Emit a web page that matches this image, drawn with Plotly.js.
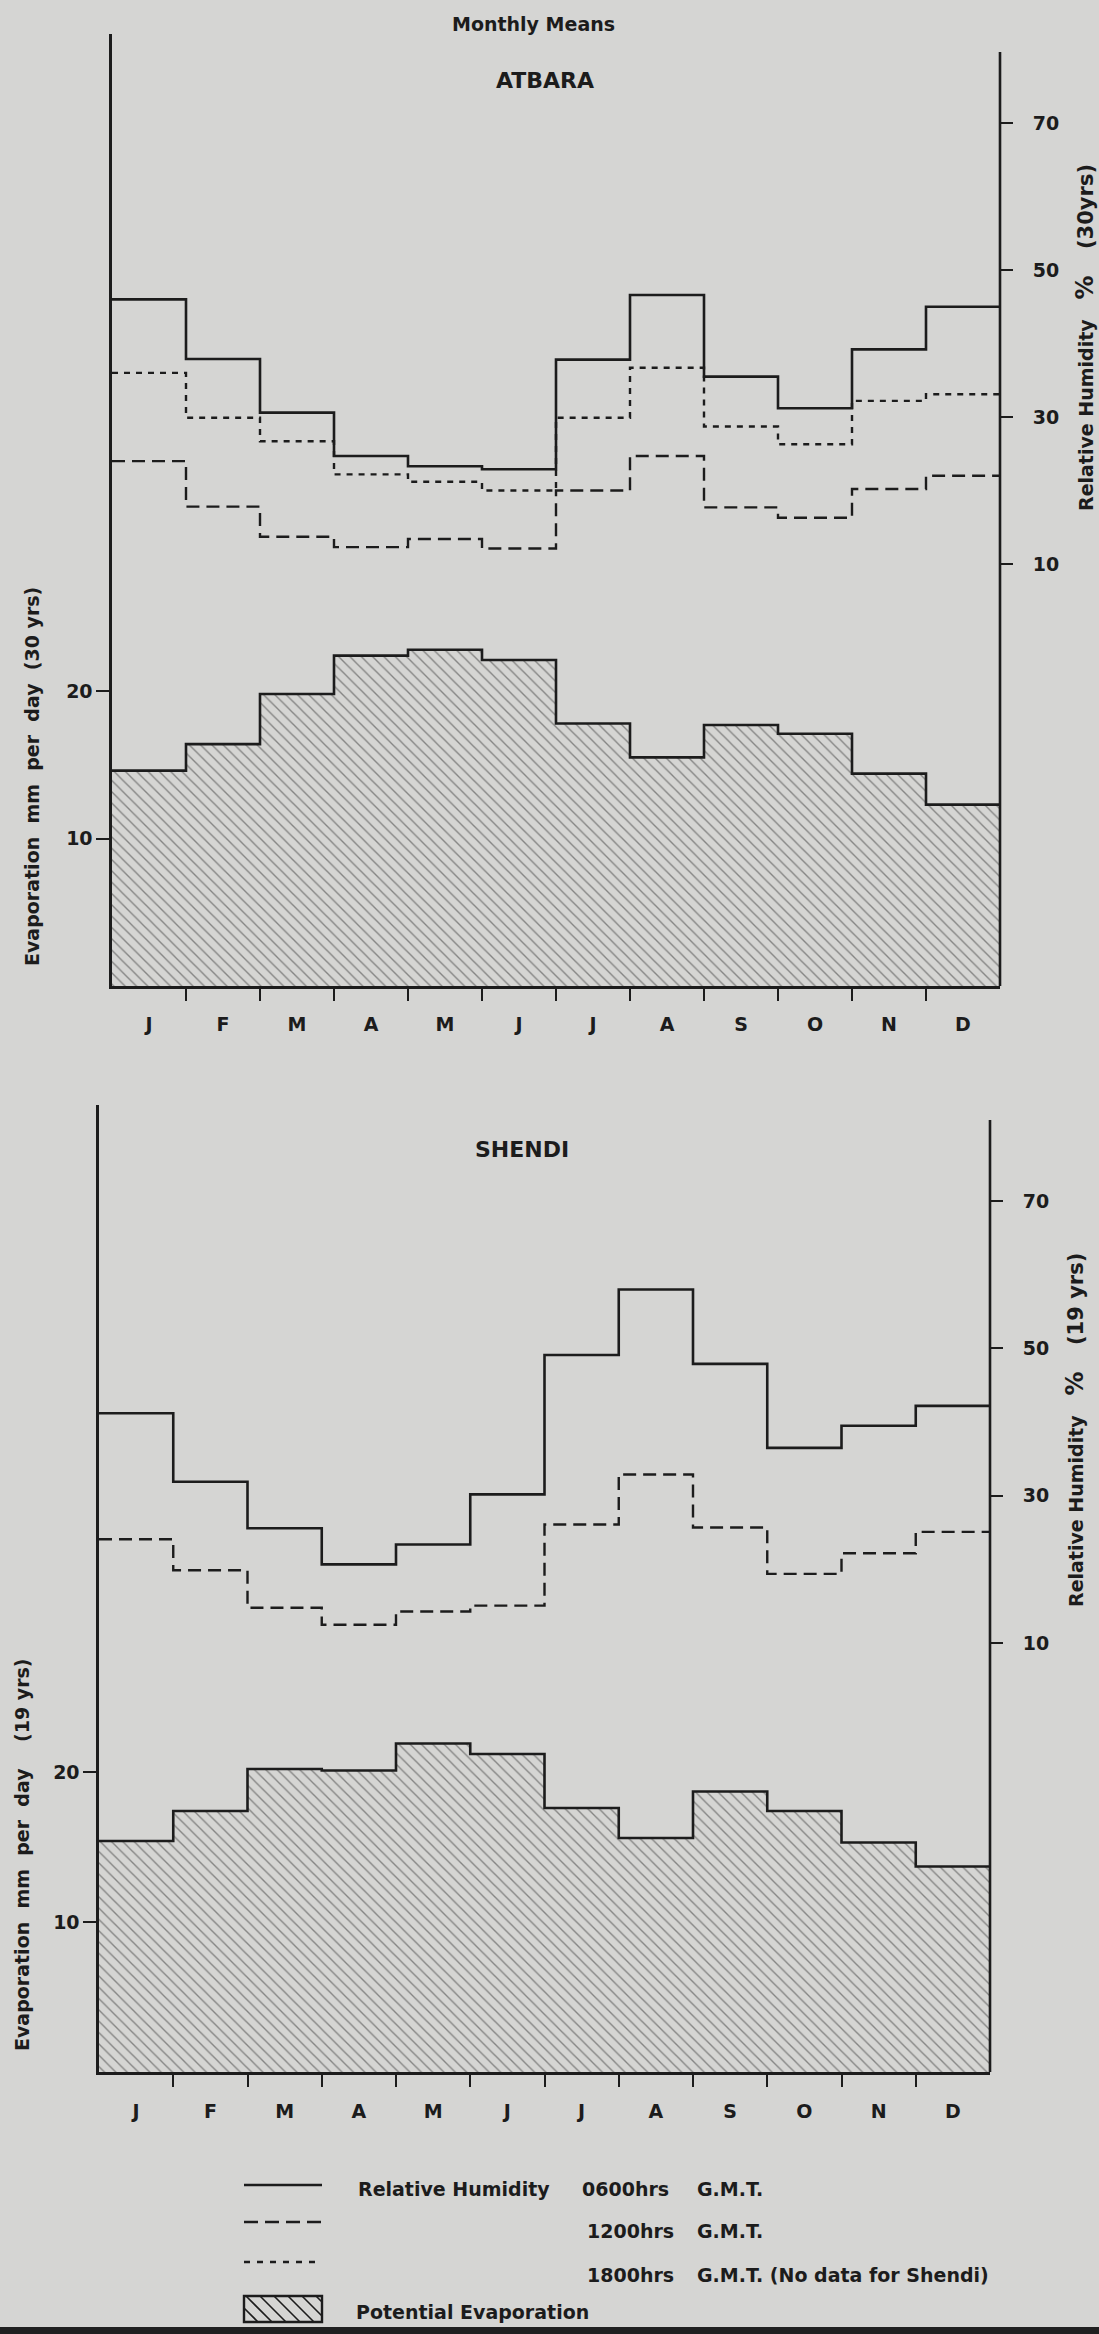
<!DOCTYPE html>
<html>
<head>
<meta charset="utf-8">
<script src="https://cdn.plot.ly/plotly-3.0.1.min.js"></script>
<style>
  html, body { margin: 0; padding: 0; background: #d5d5d3; }
  #chart { width: 1099px; height: 2334px; }
</style>
</head>
<body>
<div id="chart"></div>
<script>
// ---------------- data ----------------
const months = ['J','F','M','A','M','J','J','A','S','O','N','D'];

const atbaraEvap = [14.6, 16.4, 19.8, 22.4, 22.8, 22.1, 17.8, 15.5, 17.7, 17.1, 14.4, 12.3];
const atbaraRH0600 = [46.0, 37.9, 30.6, 24.7, 23.3, 22.9, 37.8, 46.6, 35.5, 31.2, 39.2, 45.0];
const atbaraRH1200 = [24.0, 17.8, 13.7, 12.3, 13.4, 12.1, 20.0, 24.7, 17.7, 16.3, 20.2, 22.0];
const atbaraRH1800 = [36.0, 29.9, 26.7, 22.2, 21.2, 20.0, 29.9, 36.7, 28.7, 26.3, 32.2, 33.1];

const shendiEvap = [15.4, 17.4, 20.2, 20.1, 21.9, 21.2, 17.6, 15.6, 18.7, 17.4, 15.3, 13.7];
const shendiRH0600 = [41.2, 31.9, 25.6, 20.7, 23.4, 30.2, 49.1, 58.0, 47.9, 36.5, 39.5, 42.2];
const shendiRH1200 = [24.1, 19.9, 14.8, 12.5, 14.3, 15.1, 26.1, 32.9, 25.7, 19.4, 22.2, 25.1];

const evapTicks = [10, 20];
const rhTicks = [10, 30, 50, 70];

// ---------------- helpers ----------------
const W = 1099, H = 2334;
const INK = '#1c1c1c';
const BG = '#d5d5d3';
const FONT = '"DejaVu Sans", "Open Sans", sans-serif';
const px = x => x / W;          // page x -> paper
const py = y => 1 - y / H;      // page y -> paper

const centers = months.map((m, i) => i + 0.5);
const bounds = months.slice(1).map((m, i) => i + 1);
const stepX = months.map((m, i) => i).concat([months.length]);
const stepY = arr => arr.concat([arr[arr.length - 1]]);

function evapBars(vals, xa, ya) {
  return {
    type: 'bar', x: centers, y: vals, width: 1, xaxis: xa, yaxis: ya,
    marker: {
      color: 'rgba(0,0,0,0)',
      line: { width: 0 },
      pattern: { shape: '\\', fgcolor: '#333333', bgcolor: 'rgba(0,0,0,0)', size: 8, solidity: 0.17, fillmode: 'overlay' }
    },
    hoverinfo: 'skip'
  };
}
function step(vals, xa, ya, dash, width) {
  return {
    type: 'scatter', mode: 'lines', x: stepX, y: stepY(vals), xaxis: xa, yaxis: ya,
    line: { shape: 'hv', color: INK, width: width || 2.6, dash: dash || 'solid' },
    hoverinfo: 'skip'
  };
}

const DASH1200 = '13px,7px';
const DASH1800 = '6px,6px';

const data = [
  evapBars(atbaraEvap, 'x', 'y'),
  step(atbaraEvap, 'x', 'y', 'solid', 2.6),
  step(atbaraRH0600, 'x', 'y2', 'solid', 2.6),
  step(atbaraRH1200, 'x', 'y2', DASH1200, 2.4),
  step(atbaraRH1800, 'x', 'y2', DASH1800, 2.4),
  evapBars(shendiEvap, 'x2', 'y3'),
  step(shendiEvap, 'x2', 'y3', 'solid', 2.6),
  step(shendiRH0600, 'x2', 'y4', 'solid', 2.6),
  step(shendiRH1200, 'x2', 'y4', DASH1200, 2.4)
];

// panel geometry (page pixels)
const P1 = { left: 112, right: 1000, top: 34, base: 986, rightTop: 52,
             evPx: 14.75, rh70: 123, rhPx: 7.35 };
const P2 = { left: 99, right: 990, top: 1105, base: 2072, rightTop: 1120,
             evPx: 15.0, rh70: 1201, rhPx: 7.37 };

function evRange(p) { return [0, (p.base - p.top) / p.evPx]; }
function rhRange(p) { return [70 - (p.base - p.rh70) / p.rhPx, 70 + (p.rh70 - p.top) / p.rhPx]; }

const tickFont = { family: FONT, size: 19, color: INK, weight: 700 };
const monthFont = { family: FONT, size: 19, color: INK, weight: 700 };

function xAxis(p, anchor, lab) {
  return {
    domain: [px(p.left), px(p.right)], range: [0, 12], anchor: anchor,
    showline: true, linecolor: INK, linewidth: 2.6,
    showgrid: false, zeroline: false,
    tickmode: 'array', tickvals: centers, ticktext: months,
    ticks: 'outside', ticklen: lab, tickcolor: 'rgba(0,0,0,0)',
    tickfont: monthFont,
    minor: { tickmode: 'array', tickvals: bounds, ticks: 'outside', ticklen: 12, tickwidth: 2, tickcolor: INK, showgrid: false },
    fixedrange: true
  };
}
function evAxis(p, anchor) {
  return {
    domain: [py(p.base), py(p.top)], range: evRange(p), anchor: anchor,
    showline: true, linecolor: INK, linewidth: 2.6,
    showgrid: false, zeroline: false,
    tickmode: 'array', tickvals: evapTicks,
    ticks: 'outside', ticklen: 13, tickwidth: 2, tickcolor: INK,
    tickfont: tickFont, fixedrange: true
  };
}
function rhAxis(p, over, anchor) {
  return {
    overlaying: over, side: 'right', anchor: anchor, range: rhRange(p),
    showline: false, showgrid: false, zeroline: false,
    tickmode: 'array', tickvals: rhTicks,
    ticks: 'outside', ticklen: 12, tickwidth: 2, tickcolor: INK,
    ticklabelstandoff: 16,
    tickfont: tickFont, fixedrange: true
  };
}

// ---------------- shapes (axis lines, legend symbols) ----------------
const shapes = [
  { type: 'line', xref: 'paper', yref: 'paper', x0: px(P1.right), x1: px(P1.right), y0: py(P1.base), y1: py(P1.rightTop), line: { color: INK, width: 2.6 } },
  { type: 'line', xref: 'paper', yref: 'paper', x0: px(P2.right), x1: px(P2.right), y0: py(P2.base), y1: py(P2.rightTop), line: { color: INK, width: 2.6 } }
];

// legend
const LG = { x0: 244, x1: 322, rows: [2185, 2222, 2262], box: [2296, 2322] };
shapes.push({ type: 'line', xref: 'paper', yref: 'paper', x0: px(LG.x0), x1: px(LG.x1), y0: py(LG.rows[0]), y1: py(LG.rows[0]), line: { color: INK, width: 2.6 } });
shapes.push({ type: 'line', xref: 'paper', yref: 'paper', x0: px(LG.x0), x1: px(LG.x1), y0: py(LG.rows[1]), y1: py(LG.rows[1]), line: { color: INK, width: 2.4, dash: '14px,7px' } });
shapes.push({ type: 'line', xref: 'paper', yref: 'paper', x0: px(LG.x0), x1: px(LG.x1), y0: py(LG.rows[2]), y1: py(LG.rows[2]), line: { color: INK, width: 2.4, dash: '6px,7px' } });
shapes.push({ type: 'rect', xref: 'paper', yref: 'paper', x0: px(LG.x0), x1: px(LG.x1), y0: py(LG.box[1]), y1: py(LG.box[0]), line: { color: INK, width: 2.4 }, fillcolor: 'rgba(0,0,0,0)' });
// hatch inside legend box ("\" lines)
(function () {
  const bx0 = LG.x0, bx1 = LG.x1, by0 = LG.box[0], by1 = LG.box[1];
  const h = by1 - by0;
  let path = '';
  for (let s = bx0 - h; s < bx1; s += 14) {
    let xa = s, ya = by0, xb = s + h, yb = by1;
    if (xa < bx0) { ya += (bx0 - xa); xa = bx0; }
    if (xb > bx1) { yb -= (xb - bx1); xb = bx1; }
    if (xb <= xa) continue;
    path += 'M' + px(xa) + ',' + py(ya) + 'L' + px(xb) + ',' + py(yb);
  }
  shapes.push({ type: 'path', xref: 'paper', yref: 'paper', path: path, line: { color: INK, width: 1.6 } });
})();
// dark edge of the photographed sheet at the bottom
shapes.push({ type: 'rect', xref: 'paper', yref: 'paper', x0: 0, x1: 1, y0: 0, y1: py(2327), line: { width: 0 }, fillcolor: '#202020' });

// ---------------- annotations (texts) ----------------
function txt(text, x, y, size, opts) {
  return Object.assign({
    text: text, xref: 'paper', yref: 'paper', x: px(x), y: py(y),
    showarrow: false, xanchor: 'center', yanchor: 'middle',
    font: { family: FONT, size: size, color: INK, weight: 700 }
  }, opts || {});
}
const S1 = '\u00a0';
const S2 = '\u00a0\u00a0';
const S3 = '\u00a0\u00a0\u00a0';
const S4 = '\u00a0\u00a0\u00a0\u00a0';
const PCT = '<span style="font-size:24px">%</span>';
const big = s => '<span style="font-size:21px">' + s + '</span>';
const annotations = [
  txt('Monthly Means', 533, 24, 19),
  txt('ATBARA', 545, 80, 22),
  txt('SHENDI', 522, 1150, 22),
  txt('Evaporation' + S2 + 'mm' + S2 + 'per' + S2 + 'day' + S2 + '(30 yrs)', 32, 777, 19, { textangle: -90 }),
  txt('Relative' + S1 + 'Humidity' + S3 + PCT + S4 + big('(30yrs)'), 1085, 338, 19, { textangle: -90 }),
  txt('Evaporation' + S2 + 'mm' + S2 + 'per' + S2 + 'day' + S4 + '(19 yrs)', 22, 1855, 19, { textangle: -90 }),
  txt('Relative' + S1 + 'Humidity' + S3 + PCT + S4 + big('(19 yrs)'), 1075, 1430, 19, { textangle: -90 }),
  // legend texts
  txt('Relative Humidity', 356, 2189, 19, { xanchor: 'left' }),
  txt('0600hrs', 580, 2189, 19, { xanchor: 'left' }),
  txt('G.M.T.', 695, 2189, 19, { xanchor: 'left' }),
  txt('1200hrs', 585, 2231, 19, { xanchor: 'left' }),
  txt('G.M.T.', 695, 2231, 19, { xanchor: 'left' }),
  txt('1800hrs', 585, 2275, 19, { xanchor: 'left' }),
  txt('G.M.T.' + S1 + '(No' + S1 + 'data' + S1 + 'for' + S1 + 'Shendi)', 695, 2275, 19, { xanchor: 'left' }),
  txt('Potential Evaporation', 354, 2312, 19, { xanchor: 'left' })
];

const layout = {
  width: W, height: H,
  margin: { l: 0, r: 0, t: 0, b: 0, pad: 0 },
  paper_bgcolor: BG, plot_bgcolor: 'rgba(0,0,0,0)',
  showlegend: false, bargap: 0, barmode: 'overlay',
  font: { family: FONT, color: INK },
  xaxis: xAxis(P1, 'y', 20),
  yaxis: evAxis(P1, 'x'),
  yaxis2: rhAxis(P1, 'y', 'x'),
  xaxis2: xAxis(P2, 'y3', 21),
  yaxis3: evAxis(P2, 'x2'),
  yaxis4: rhAxis(P2, 'y3', 'x2'),
  shapes: shapes,
  annotations: annotations
};

Plotly.newPlot('chart', data, layout, { displayModeBar: false, staticPlot: true });
</script>
</body>
</html>
